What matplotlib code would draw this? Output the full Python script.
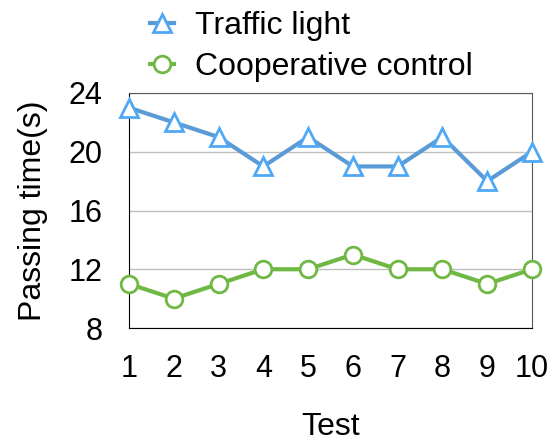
import matplotlib.pyplot as plt

tests = [1, 2, 3, 4, 5, 6, 7, 8, 9, 10]
traffic_light = [23, 22, 21, 19, 21, 19, 19, 21, 18, 20]
cooperative = [11, 10, 11, 12, 12, 13, 12, 12, 11, 12]

plt.rcParams['font.family'] = ['Liberation Sans', 'DejaVu Sans']

fig = plt.figure(figsize=(5.52, 4.45), dpi=100)
ax = fig.add_axes([129 / 552, 1 - 328 / 445, (532 - 129) / 552, (328 - 93) / 445])

ax.plot(tests, traffic_light, color='#5B9BD5', lw=3, marker='^', ms=13,
        mfc='white', mec='#4FA8F5', mew=2, label='Traffic light', clip_on=False, zorder=3)
ax.plot(tests, cooperative, color='#70B844', lw=3, marker='o', ms=12,
        mfc='white', mec='#70B844', mew=2, label='Cooperative control', clip_on=False, zorder=3)

ax.set_xlim(1, 10)
ax.set_ylim(8, 24)
ax.set_xticks(tests)
ax.set_yticks([8, 12, 16, 20, 24])
ax.tick_params(labelsize=22, length=0, pad=19)
ax.yaxis.grid(True, color='#BFBFBF', lw=1)
ax.set_axisbelow(True)
for s in ['top', 'right']:
    ax.spines[s].set_color('#595959')
for s in ['left', 'bottom']:
    ax.spines[s].set_color('black')

ax.set_xlabel('Test', fontsize=23, labelpad=20)
ax.set_ylabel('Passing time(s)', fontsize=23, labelpad=15)

ax.legend(loc='lower left', bbox_to_anchor=(0.052, 1.047), frameon=False, fontsize=23,
          handlelength=0.75, handletextpad=0.65, labelspacing=0.35, borderaxespad=0,
          borderpad=0)

fig.savefig('out.png', dpi=100)
